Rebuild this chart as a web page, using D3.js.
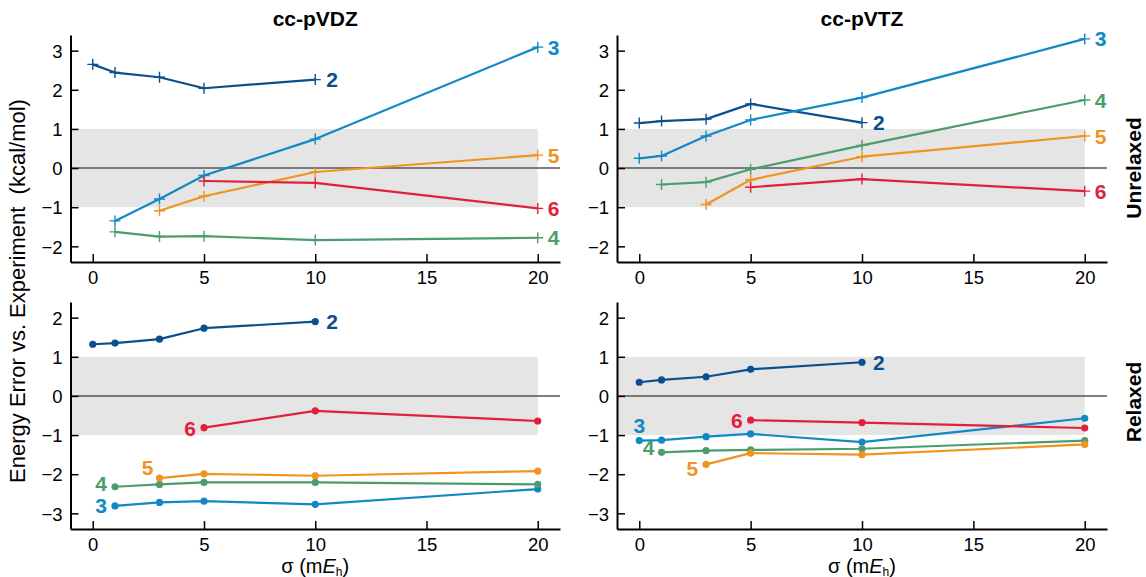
<!DOCTYPE html>
<html>
<head>
<meta charset="utf-8">
<script src="https://cdn.jsdelivr.net/npm/d3@7"></script>
<style>
  body { margin: 0; background: #fff; }
  svg { font-family: "Liberation Sans", Arial, Helvetica, sans-serif; }
  .axis path, .axis line { stroke: #000; }
  .axis text { font-size: 18.5px; fill: #000; }
</style>
</head>
<body>
<svg id="chart" width="1146" height="577"></svg>
<script>
// sigma values (mEh) shared by all series
var sigma = [0, 1, 3, 5, 10, 20];
var seriesNames = ["2", "3", "4", "5", "6"];
var seriesColors = ["#0b4f8e", "#1089c4", "#4b9d6e", "#f0931f", "#e3203c"];
var xTicks = [0, 5, 10, 15, 20];
var yTicksTop = [-2, -1, 0, 1, 2, 3];
var yTicksBottom = [-3, -2, -1, 0, 1, 2];
var columnTitles = ["cc-pVDZ", "cc-pVTZ"];
var rowTitles = ["Unrelaxed", "Relaxed"];

// one row per series (2..6), one value per sigma, null = not computed
var vdzUnrelaxed = [
  [2.65, 2.44, 2.32, 2.04, 2.26, null],
  [null, -1.35, -0.79, -0.19, 0.74, 3.09],
  [null, -1.63, -1.75, -1.74, -1.84, -1.78],
  [null, null, -1.09, -0.72, -0.10, 0.33],
  [null, null, null, -0.33, -0.38, -1.03]
];
var vtzUnrelaxed = [
  [1.15, 1.20, 1.25, 1.64, 1.16, null],
  [0.25, 0.31, 0.82, 1.23, 1.80, 3.30],
  [null, -0.42, -0.36, -0.03, 0.58, 1.74],
  [null, null, -0.93, -0.30, 0.29, 0.82],
  [null, null, null, -0.49, -0.28, -0.59]
];
var vdzRelaxed = [
  [1.32, 1.35, 1.45, 1.73, 1.90, null],
  [null, -2.81, -2.72, -2.69, -2.77, -2.38],
  [null, -2.32, -2.26, -2.21, -2.21, -2.26],
  [null, null, -2.10, -1.99, -2.04, -1.92],
  [null, null, null, -0.81, -0.38, -0.64]
];
var vtzRelaxed = [
  [0.35, 0.41, 0.49, 0.68, 0.86, null],
  [-1.14, -1.13, -1.04, -0.97, -1.18, -0.57],
  [null, -1.44, -1.40, -1.38, -1.35, -1.14],
  [null, null, -1.75, -1.46, -1.50, -1.24],
  [null, null, null, -0.62, -0.68, -0.82]
];

// where each series label sits: end = right of last point, start = left of first point
var labelsRight = [["end", 11, 0], ["end", 10, 0], ["end", 10, 0], ["end", 10, 0], ["end", 10, 0]];
var labelsVdzRelaxed = [["end", 11, 0], ["start", -8, 0], ["start", -8, -3], ["start", -6, -11], ["start", -8, 1]];
var labelsVtzRelaxed = [["end", 11, 0], ["above", 0, -15], ["start", -7, -5], ["start", -8, 4], ["start", -8, 0]];

var svg = d3.select("#chart");

var colX = [[70.5, 560], [617, 1107]];
var rowY = [[262, 35], [529, 302]];

var panels = [
  {col: 0, row: 0, data: vdzUnrelaxed, yDomain: [-2.4, 3.4], yTicks: yTicksTop, marker: "plus", labels: labelsRight},
  {col: 1, row: 0, data: vtzUnrelaxed, yDomain: [-2.4, 3.4], yTicks: yTicksTop, marker: "plus", labels: labelsRight},
  {col: 0, row: 1, data: vdzRelaxed, yDomain: [-3.4, 2.4], yTicks: yTicksBottom, marker: "dot", labels: labelsVdzRelaxed},
  {col: 1, row: 1, data: vtzRelaxed, yDomain: [-3.4, 2.4], yTicks: yTicksBottom, marker: "dot", labels: labelsVtzRelaxed}
];

panels.forEach(function(p) { drawPanel(p); });

function drawPanel(p) {
  var x = d3.scaleLinear().domain([-1, 21]).range(colX[p.col]);
  var y = d3.scaleLinear().domain(p.yDomain).range(rowY[p.row]);
  var g = svg.append("g");

  // +/- 1 kcal/mol band
  g.append("rect")
    .attr("x", x(-1))
    .attr("width", x(20) - x(-1))
    .attr("y", y(1))
    .attr("height", y(-1) - y(1))
    .attr("fill", "#e5e5e5");

  g.append("line")
    .attr("x1", x(-1)).attr("x2", x(21))
    .attr("y1", y(0)).attr("y2", y(0))
    .attr("stroke", "#555")
    .attr("stroke-width", 1.5);

  g.append("g")
    .attr("class", "axis")
    .attr("transform", "translate(0," + y.range()[0] + ")")
    .call(d3.axisBottom(x).tickValues(xTicks).tickFormat(d3.format("d"))
      .tickSizeInner(-8).tickSizeOuter(0).tickPadding(9))
    .call(function(a) {
      a.select(".domain").attr("stroke-width", 2);
      a.selectAll(".tick line").attr("stroke-width", 1.5);
    });

  g.append("g")
    .attr("class", "axis")
    .attr("transform", "translate(" + x.range()[0] + ",0)")
    .call(d3.axisLeft(y).tickValues(p.yTicks).tickFormat(d3.format("d"))
      .tickSizeInner(-8).tickSizeOuter(0).tickPadding(8))
    .call(function(a) {
      a.select(".domain").attr("stroke-width", 2);
      a.selectAll(".tick line").attr("stroke-width", 1.5);
      a.selectAll(".tick text").attr("dy", "0.36em");
    });

  var line = d3.line()
    .defined(function(d) { return d.v != null; })
    .x(function(d) { return x(d.s); })
    .y(function(d) { return y(d.v); });

  p.data.forEach(function(vals, i) {
    var pts = vals.map(function(v, k) { return {s: sigma[k], v: v}; });
    var valid = pts.filter(function(d) { return d.v != null; });
    var color = seriesColors[i];

    g.append("path")
      .datum(pts)
      .attr("fill", "none")
      .attr("stroke", color)
      .attr("stroke-width", 2.2)
      .attr("stroke-linejoin", "round")
      .attr("d", line);

    if (p.marker === "plus") {
      g.selectAll(null)
        .data(valid)
        .enter().append("path")
          .attr("d", "M-5.5,0H5.5M0,-5.5V5.5")
          .attr("stroke", color)
          .attr("stroke-width", 1.4)
          .attr("transform", function(d) { return "translate(" + x(d.s) + "," + y(d.v) + ")"; });
    } else {
      g.selectAll(null)
        .data(valid)
        .enter().append("circle")
          .attr("cx", function(d) { return x(d.s); })
          .attr("cy", function(d) { return y(d.v); })
          .attr("r", 3.6)
          .attr("fill", color);
    }

    var lab = p.labels[i];
    var anchorPt = lab[0] === "end" ? valid[valid.length - 1] : valid[0];
    g.append("text")
      .attr("x", x(anchorPt.s) + lab[1])
      .attr("y", y(anchorPt.v) + lab[2])
      .attr("dy", "0.36em")
      .attr("text-anchor", lab[0] === "end" ? "start" : (lab[0] === "above" ? "middle" : "end"))
      .attr("font-size", "21px")
      .attr("font-weight", "bold")
      .attr("fill", color)
      .text(seriesNames[i]);
  });
}

// column titles
columnTitles.forEach(function(t, i) {
  svg.append("text")
    .attr("x", (colX[i][0] + colX[i][1]) / 2)
    .attr("y", 26)
    .attr("text-anchor", "middle")
    .attr("font-size", "21px")
    .attr("font-weight", "bold")
    .text(t);
});

// row titles
var rowCenters = [168, 402];
rowTitles.forEach(function(t, i) {
  svg.append("text")
    .attr("transform", "translate(1141," + rowCenters[i] + ") rotate(-90)")
    .attr("text-anchor", "middle")
    .attr("font-size", "21px")
    .attr("font-weight", "bold")
    .text(t);
});

// shared y label
svg.append("text")
  .attr("transform", "translate(25,291) rotate(-90)")
  .attr("text-anchor", "middle")
  .attr("font-size", "22px")
  .style("white-space", "pre")
  .text("Energy Error vs. Experiment  (kcal/mol)");

// x labels
colX.forEach(function(c) {
  var t = svg.append("text")
    .attr("x", (c[0] + c[1]) / 2)
    .attr("y", 573)
    .attr("text-anchor", "middle")
    .attr("font-size", "20px");
  t.append("tspan").text("\u03c3 (m");
  t.append("tspan").attr("font-style", "italic").text("E");
  t.append("tspan").attr("font-size", "12px").attr("dy", "2.5").text("h");
  t.append("tspan").attr("dy", "-2.5").text(")");
});
</script>
</body>
</html>
